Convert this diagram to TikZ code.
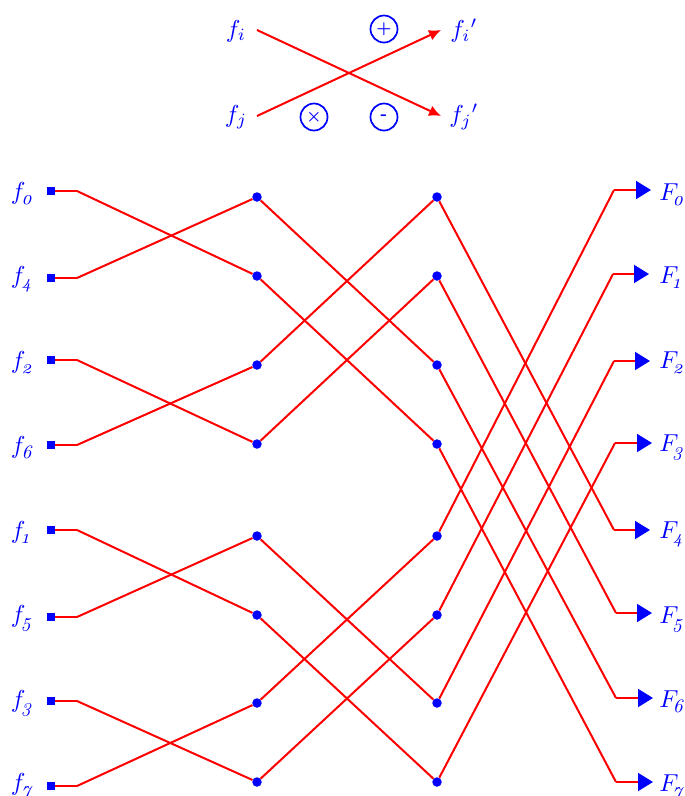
\documentclass[tikz,border=0pt]{standalone}
\usepackage{amsmath}
\usepackage{fontspec}
\newfontface\subface[Extension=.otf,Numbers=OldStyle]{lmroman10-italic}
\usetikzlibrary{arrows.meta}
\definecolor{lblue}{RGB}{0,0,255}
\newcommand{\lab}[3]{$#1$\kern#3pt\raisebox{-2.2pt}{\subface\fontsize{7.8}{9}\selectfont #2}}
\tikzset{x=1pt,y=-1pt,
  wire/.style={draw=red,line width=2pt},
  lbl/.style={text=lblue,scale=2.45,inner sep=0pt,anchor=center},
  src/.style={fill=lblue,minimum size=8pt,inner sep=0pt,rectangle},
  dotn/.style={fill=lblue,circle,minimum size=9.5pt,inner sep=0pt},
  op/.style={draw=lblue,line width=1.7pt,circle,minimum size=27pt,inner sep=0pt},
  opsym/.style={text=lblue,scale=1.7,inner sep=0pt},
  headw/.style={wire,-{Latex[length=12pt,width=11pt,fill=red]}},
  outw/.style={wire,-{Triangle[length=15pt,width=18pt,fill=lblue,color=lblue]}}
}
\begin{document}
\begin{tikzpicture}
\useasboundingbox (0,0) rectangle (685,796);
% legend
\coordinate (ia) at (257,30);
\coordinate (ja) at (257,116);
\coordinate (ib) at (441,30);
\coordinate (jb) at (441,116);
\draw[headw] (ia) -- (jb);
\draw[headw] (ja) -- (ib);
\node[lbl] (li) at (236,31) {$f_i$};
\node[lbl] (lj) at (236,117) {$f_j$};
\node[lbl] (lip) at (464,31) {$f_i{}'$};
\node[lbl] (ljp) at (464,117) {$f_j{}'$};
\node[op] (plus) at (384,29) {};
\node[op] (times) at (314,117) {};
\node[op] (minus) at (384,117) {};
\node[opsym] (plussym) at (plus) {$\boldsymbol{+}$};
\node[opsym] (timessym) at (times) {$\boldsymbol{\times}$};
\node[opsym] (minussym) at (minus) {\textbf{-}};
% stage 0
\foreach \y/\d/\b [count=\k from 0] in {191/0/199,278/4/283,360/2/368,445/6/453,530/1/538,617/5/622,701/3/707,786/7/790}{
  \node[src] (s\k) at (51,\y) {};
  \coordinate (k\k) at (77,\y);
  \node[lbl,anchor=base west] (t\k) at (10.5,\b) {\lab{f}{\d}{-1.6}};
}
% stages 1 and 2
\foreach \y [count=\k from 0] in {197,276,365,444,536,615,703,782}{
  \node[dotn] (m\k) at (257,\y) {};
  \node[dotn] (n\k) at (437,\y) {};
}
% output
\foreach \y/\d/\kx/\tx/\b [count=\k from 0] in {190/0/614/651/200,274/1/613/649/283,361/2/614/650/368,443/3/615/652/451,530/4/614/650/538,613/5/616/652/623,698/6/616/653/707,782/7/616/653/791}{
  \coordinate (q\k) at (\kx,\y);
  \coordinate (e\k) at (\tx,\y);
  \node[lbl,anchor=base west] (o\k) at (659,\b) {\lab{F}{\d}{-2.4}};
}
% wires
\foreach \a in {0,...,7}{ \draw[wire] (s\a) -- (k\a); }
\foreach \a/\b in {0/1,1/0,2/3,3/2,4/5,5/4,6/7,7/6}{ \draw[wire] (k\a) -- (m\b); }
\foreach \a/\b in {0/2,1/3,2/0,3/1,4/6,5/7,6/4,7/5}{ \draw[wire] (m\a) -- (n\b); }
\foreach \a/\b in {0/4,1/5,2/6,3/7,4/0,5/1,6/2,7/3}{ \draw[wire] (n\a) -- (q\b); }
\foreach \a in {0,...,7}{ \draw[outw] (q\a) -- (e\a); }
\end{tikzpicture}
\end{document}
